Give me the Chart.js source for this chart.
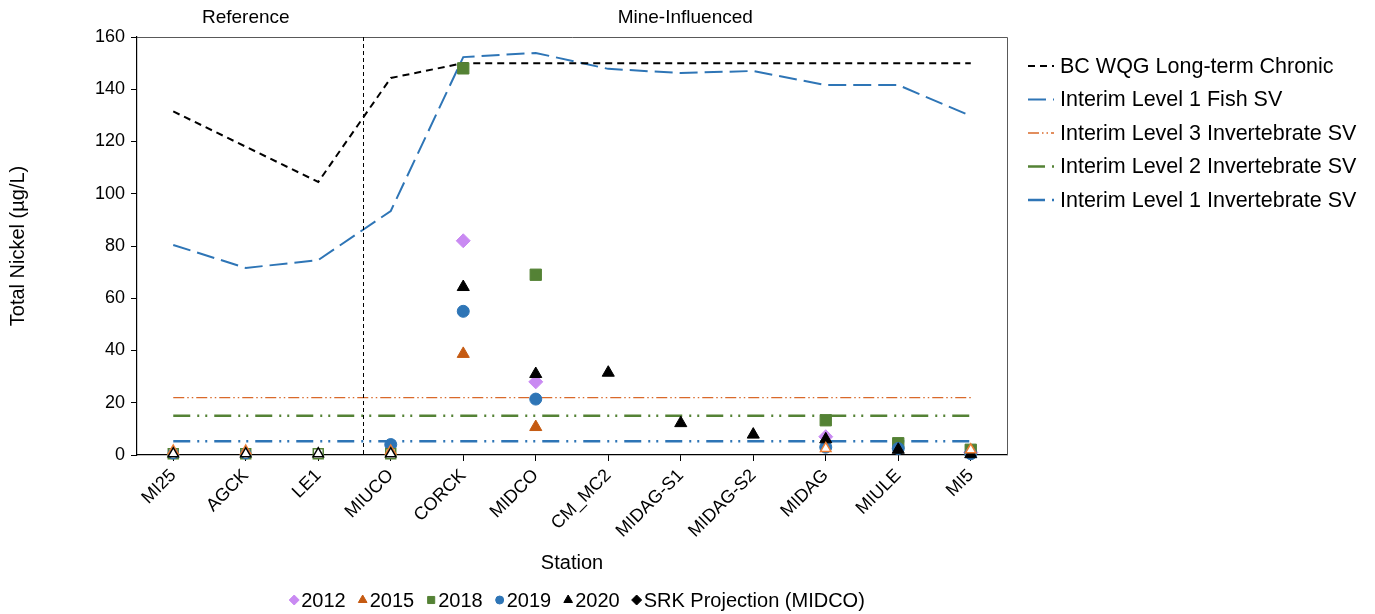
<!DOCTYPE html>
<html>
<head>
<meta charset="utf-8">
<script src="https://cdn.jsdelivr.net/npm/chart.js@4.4.1/dist/chart.umd.min.js"></script>
<style>
  html, body { margin: 0; padding: 0; background: #fff; }
  canvas { display: block; }
</style>
</head>
<body>
<canvas id="nickelChart" width="1375" height="614"></canvas>
<script>
// Station order along the x axis
const stations = ['MI25', 'AGCK', 'LE1', 'MIUCO', 'CORCK', 'MIDCO', 'CM_MC2', 'MIDAG-S1', 'MIDAG-S2', 'MIDAG', 'MIULE', 'MI5'];
const regionLabels = ['Reference', 'Mine-Influenced'];
const regionDivider = 2.62; // category position of the reference / mine-influenced split
const yTicks = { min: 0, max: 160, step: 20 };

// Guideline / screening value lines (µg/L)
const bcWqgChronic = [131.5, 118, 104.5, 144.3, 150, 150, 150, 150, 150, 150, 150, 150];
const fishSvL1 = [80.4, 71.6, 74.6, 93.4, 152.3, 153.9, 147.8, 146.2, 147, 141.6, 141.6, 129.8];
const invertSvL3 = [22, 22, 22, 22, 22, 22, 22, 22, 22, 22, 22, 22];
const invertSvL2 = [15, 15, 15, 15, 15, 15, 15, 15, 15, 15, 15, 15];
const invertSvL1 = [5.3, 5.3, 5.3, 5.3, 5.3, 5.3, 5.3, 5.3, 5.3, 5.3, 5.3, 5.3];

// Measured values by year (null = no sample)
const y2012 = [null, null, null, null, 82, 28, null, null, null, 7, null, 1];
const y2015 = [null, null, null, null, 38.7, 10.7, null, null, null, null, null, null];
const y2018 = [null, null, null, null, 148, 69, null, null, null, 13.3, 4.5, 2];
const y2019 = [null, null, null, 4, 55, 21.4, null, null, null, 3, 2.5, 0.5];
const y2020 = [null, null, null, null, 64.3, 31, 31.5, 12.2, 7.8, 6, 2, 0.3];
const srkProjection = [null, null, null, null, null, null, null, null, null, null, null, null];

// Below-detection-limit values (hollow markers)
const y2015Ndl = [1.5, 1.5, null, 1.5, null, null, null, null, null, 2.5, null, 2];
const y2018Ndl = [0.5, 0.5, 0.5, 0.5, null, null, null, null, null, null, null, null];
const y2019Ndl = [0.5, 0.5, null, null, null, null, null, null, null, null, null, null];
const y2020Ndl = [0.5, 0.5, 0.5, 0.5, null, null, null, null, null, null, null, null];

const FONT = '"Liberation Sans", Arial, sans-serif';

// order: lower number is painted later (on top)
function points(label, data, style, color, radius, hollow, order) {
    return {
        label: label,
        data: data,
        order: order,
        showLine: false,
        clip: false,
        pointStyle: style,
        pointRadius: radius,
        pointHoverRadius: radius,
        pointBackgroundColor: hollow ? '#ffffff' : color,
        pointBorderColor: color,
        pointBorderWidth: hollow ? 1.5 : 1,
        borderColor: color,
        backgroundColor: hollow ? '#ffffff' : color,
        hollow: hollow
    };
}

function guide(label, data, color, width, dash) {
    return {
        label: label,
        data: data,
        order: 10,
        borderColor: color,
        backgroundColor: color,
        borderWidth: width,
        borderDash: dash,
        pointRadius: 0,
        pointHoverRadius: 0,
        tension: 0,
        fill: false
    };
}

const markerSets = [
    points('2012', y2012, 'rectRot', '#C98AF2', 7, false, 6),
    points('2015', y2015, 'triangle', '#C55A11', 7, false, 5),
    points('2018', y2018, 'rect', '#548235', 8, false, 4),
    points('2019', y2019, 'circle', '#2E75B6', 6, false, 3),
    points('2020', y2020, 'triangle', '#000000', 7, false, 2),
    points('SRK Projection (MIDCO)', srkProjection, 'rectRot', '#000000', 6, false, 1),
    points('2020 <DL', y2020Ndl, 'triangle', '#000000', 6, true, 0),
    points('2015 <DL', y2015Ndl, 'triangle', '#ED7D31', 6, true, 0),
    points('2019 <DL', y2019Ndl, 'circle', '#2E75B6', 5, true, 0),
    points('2018 <DL', y2018Ndl, 'rect', '#548235', 7, true, 0)
];

const lineSets = [
    guide('BC WQG Long-term Chronic', bcWqgChronic, '#000000', 2, [7, 5]),
    guide('Interim Level 1 Fish SV', fishSvL1, '#2E75B6', 2, [18, 7]),
    guide('Interim Level 3 Invertebrate SV', invertSvL3, '#D9692A', 1.3, [11, 3, 1.5, 3, 1.5, 3]),
    guide('Interim Level 2 Invertebrate SV', invertSvL2, '#548235', 2.5, [17, 7, 2, 6, 2, 7]),
    guide('Interim Level 1 Invertebrate SV', invertSvL1, '#2E75B6', 2.5, [17, 7, 2, 6, 2, 7])
];

// Legends, plot frame, region divider and labels
const extrasPlugin = {
    id: 'extras',
    afterDatasetsDraw(chart) {
        const { ctx, chartArea, scales } = chart;
        const x = scales.x;
        ctx.save();

        // frame (top/right)
        ctx.strokeStyle = '#595959';
        ctx.lineWidth = 1;
        ctx.beginPath();
        ctx.moveTo(chartArea.left, chartArea.top + 0.5);
        ctx.lineTo(chartArea.right + 0.5, chartArea.top + 0.5);
        ctx.lineTo(chartArea.right + 0.5, chartArea.bottom);
        ctx.stroke();

        // divider
        const divX = Math.round(x.getPixelForValue(regionDivider)) + 0.5;
        ctx.strokeStyle = '#000';
        ctx.setLineDash([4, 3]);
        ctx.beginPath();
        ctx.moveTo(divX, chartArea.top);
        ctx.lineTo(divX, chartArea.bottom);
        ctx.stroke();
        ctx.setLineDash([]);

        // region labels
        ctx.fillStyle = '#000';
        ctx.font = '19px ' + FONT;
        ctx.textAlign = 'center';
        ctx.textBaseline = 'middle';
        ctx.fillText(regionLabels[0], x.getPixelForValue(1), 18);
        ctx.fillText(regionLabels[1], (divX + chartArea.right) / 2, 18);

        // right legend: guideline lines
        ctx.font = '21.5px ' + FONT;
        ctx.textAlign = 'left';
        lineSets.forEach((ds, i) => {
            const ly = 66 + i * 33.5;
            ctx.save();
            ctx.beginPath();
            ctx.rect(1026, ly - 5, 30, 10);
            ctx.clip();
            ctx.strokeStyle = ds.borderColor;
            ctx.lineWidth = ds.borderWidth;
            ctx.setLineDash(ds.borderDash);
            ctx.beginPath();
            ctx.moveTo(1028, ly);
            ctx.lineTo(1054, ly);
            ctx.stroke();
            ctx.restore();
            ctx.fillStyle = '#000';
            ctx.fillText(ds.label, 1060, ly + 1);
        });

        // bottom legend: markers
        ctx.font = '20px ' + FONT;
        const shown = markerSets.filter(ds => !ds.hollow);
        const itemW = shown.map(ds => 12 + ctx.measureText(ds.label).width);
        const gap = 12;
        const total = itemW.reduce((a, b) => a + b, 0) + gap * (shown.length - 1);
        let lx = 577 - total / 2;
        const by = 600;
        shown.forEach((ds, i) => {
            const r = ds.pointStyle === 'circle' ? 4 : 5;
            ctx.fillStyle = ds.pointBackgroundColor;
            ctx.strokeStyle = ds.pointBorderColor;
            ctx.lineWidth = 1;
            Chart.helpers.drawPoint(ctx, { pointStyle: ds.pointStyle, radius: r, borderWidth: 1, rotation: 0 }, lx + 5, by);
            ctx.fillStyle = '#000';
            ctx.fillText(ds.label, lx + 12, by + 1);
            lx += itemW[i] + gap;
        });
        ctx.restore();
    }
};

const chart = new Chart(document.getElementById('nickelChart').getContext('2d'), {
    type: 'line',
    data: {
        labels: stations,
        datasets: markerSets.concat(lineSets)
    },
    options: {
        responsive: false,
        animation: false,
        layout: { padding: { left: 0, top: 37, right: 368, bottom: 34 } },
        plugins: {
            legend: { display: false },
            tooltip: { enabled: false }
        },
        scales: {
            x: {
                offset: true,
                afterFit: (scale) => { scale.height = 125; },
                grid: { offset: false, drawOnChartArea: false, tickLength: 6, color: '#000' },
                border: { color: '#000', width: 1.2 },
                ticks: {
                    autoSkip: false,
                    maxRotation: 45,
                    minRotation: 45,
                    padding: 4,
                    color: '#000',
                    font: { family: FONT, size: 18 }
                },
                title: {
                    display: true,
                    text: 'Station',
                    color: '#000',
                    padding: { top: 0, bottom: 5 },
                    font: { family: FONT, size: 20 }
                }
            },
            y: {
                min: yTicks.min,
                max: yTicks.max,
                afterFit: (scale) => { scale.width = 137; },
                grid: { drawOnChartArea: false, tickLength: 6, color: '#000' },
                border: { color: '#000', width: 1.2 },
                ticks: {
                    stepSize: yTicks.step,
                    padding: 6,
                    color: '#000',
                    font: { family: FONT, size: 18 }
                },
                title: {
                    display: true,
                    text: 'Total Nickel (µg/L)',
                    color: '#000',
                    padding: { top: 6, bottom: 0 },
                    font: { family: FONT, size: 20 }
                }
            }
        }
    },
    plugins: [extrasPlugin]
});
</script>
</body>
</html>
